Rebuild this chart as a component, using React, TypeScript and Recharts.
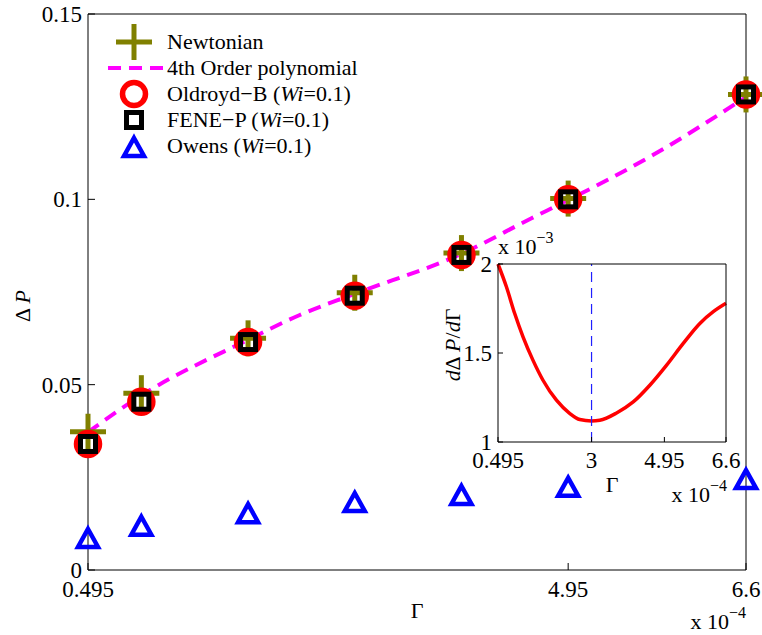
import React from "react";
import {
  CartesianGrid,
  ComposedChart,
  Line,
  ReferenceLine,
  Scatter,
  XAxis,
  YAxis,
} from "recharts";

const FONT = "'Liberation Serif', 'Times New Roman', serif";

// main plot, Gamma in units of 1e-4
const gammaX = [0.495, 0.99, 1.98, 2.97, 3.96, 4.95, 6.6];
const newtonian = [0.0373, 0.0477, 0.0625, 0.0748, 0.0855, 0.1002, 0.1283];
const oldroydB = [0.034, 0.0454, 0.0615, 0.074, 0.085, 0.1, 0.1283];
const feneP = [0.034, 0.0454, 0.0615, 0.074, 0.085, 0.1, 0.1283];
const owens = [0.0081, 0.0114, 0.0148, 0.0178, 0.0197, 0.0219, 0.024];

// 4th order polynomial fit
const polyX = [0.495, 0.99, 1.98, 2.46, 2.97, 3.96, 4.61, 4.95, 5.74, 6.6];
const polyY = [0.0372, 0.0471, 0.0621, 0.0688, 0.0745, 0.0853, 0.0949, 0.0998, 0.112, 0.1276];

// inset: d(dP)/dGamma in units of 1e-3
const insetX = [0.495, 0.72, 0.94, 1.165, 1.43, 1.7, 2.06, 2.42, 2.685, 3.0, 3.22, 3.67, 4.115, 4.56, 5.01, 5.455, 5.9, 6.26, 6.6];
const insetY = [2.0, 1.872, 1.723, 1.591, 1.46, 1.347, 1.235, 1.16, 1.126, 1.118, 1.122, 1.163, 1.225, 1.319, 1.432, 1.554, 1.666, 1.732, 1.779];
const insetMinX = 3;

const xTicks = [0.495, 4.95, 6.6];
const yTicks = [0, 0.05, 0.1, 0.15];
const insetXTicks = [0.495, 3, 4.95, 6.6];
const insetYTicks = [1, 1.5, 2];

const zip = (xs: number[], ys: number[]) => xs.map((x, i) => ({ x, y: ys[i] }));

const OLIVE = "#808000";
const MAGENTA = "#ff00ff";
const FS = 22;
const TICK_FS = 23;
const serif = { fontFamily: FONT };

function Plus({ cx, cy }: { cx: number; cy: number }) {
  return (
    <g stroke={OLIVE} strokeWidth={5}>
      <line x1={cx - 18} y1={cy} x2={cx + 18} y2={cy} />
      <line x1={cx} y1={cy - 18} x2={cx} y2={cy + 18} />
    </g>
  );
}
function Ring({ cx, cy }: { cx: number; cy: number }) {
  return <circle cx={cx} cy={cy} r={11.5} fill="none" stroke="#ff0000" strokeWidth={5.5} />;
}
function Box({ cx, cy }: { cx: number; cy: number }) {
  return <rect x={cx - 7.5} y={cy - 7.5} width={15} height={15} fill="none" stroke="#000" strokeWidth={5} />;
}
function Tri({ cx, cy }: { cx: number; cy: number }) {
  return (
    <path
      d={`M${cx},${cy - 11}L${cx + 10},${cy + 7}L${cx - 10},${cy + 7}Z`}
      fill="none"
      stroke="#0000ff"
      strokeWidth={4.5}
      strokeLinejoin="miter"
    />
  );
}

// serif tick labels (bottom / left)
const BottomTick = (p: any) => (
  <text x={p.x} y={p.y} dy="0.71em" textAnchor="middle" style={serif} fontSize={TICK_FS} fill="#000">
    {p.payload.value}
  </text>
);
const LeftTick = (p: any) => (
  <text x={p.x} y={p.y} dy="0.355em" textAnchor="end" style={serif} fontSize={TICK_FS} fill="#000">
    {p.payload.value}
  </text>
);

function Sci({ x, y, exp, anchor }: { x: number; y: number; exp: string; anchor: "start" | "end" }) {
  return (
    <text x={x} y={y} textAnchor={anchor} style={serif} fontSize={FS} fill="#000">
      x 10
      <tspan dy={-11} fontSize={16}>
        {exp}
      </tspan>
    </text>
  );
}

function Legend() {
  const rows: Array<[React.ReactNode, React.ReactNode]> = [
    [<Plus cx={20} cy={13} />, "Newtonian"],
    [
      <line x1={-6} y1={13} x2={49} y2={13} stroke={MAGENTA} strokeWidth={4} strokeDasharray="13 8" />,
      "4th Order polynomial",
    ],
    [<Ring cx={20} cy={13} />, <>Oldroyd−B (<i>Wi</i>=0.1)</>],
    [<Box cx={20} cy={13} />, <>FENE−P (<i>Wi</i>=0.1)</>],
    [<Tri cx={20} cy={16} />, <>Owens (<i>Wi</i>=0.1)</>],
  ];
  return (
    <div style={{ position: "absolute", left: 114, top: 29, fontFamily: FONT, fontSize: FS, color: "#000" }}>
      {rows.map(([m, t], i) => (
        <div key={i} style={{ display: "flex", alignItems: "center", height: 26 }}>
          <svg width={40} height={26} style={{ overflow: "visible" }}>
            {m}
          </svg>
          <span style={{ marginLeft: 13, whiteSpace: "nowrap", lineHeight: "26px" }}>{t}</span>
        </div>
      ))}
    </div>
  );
}

export default function App() {
  return (
    <div
      style={{
        position: "absolute",
        left: 0,
        top: 0,
        width: 762,
        height: 635,
        background: "#fff",
        fontFamily: FONT,
      }}
    >
      <ComposedChart
        width={762}
        height={635}
        margin={{ top: 13, right: 15, bottom: 64, left: 87 }}
        style={serif}
      >
        <XAxis
          dataKey="x"
          type="number"
          domain={[0.495, 6.6]}
          ticks={xTicks}
          interval={0}
          height={1}
          tick={BottomTick}
          tickSize={-7}
          tickMargin={18}
          axisLine={{ stroke: "#000" }}
          tickLine={{ stroke: "#000" }}
          label={(p: any) => {
            const vb = p.viewBox;
            return (
              <g>
                <text x={vb.x + vb.width / 2} y={618} textAnchor="middle" style={serif} fontSize={FS} fill="#000">
                  Γ
                </text>
                <Sci x={vb.x + vb.width} y={629} exp="−4" anchor="end" />
              </g>
            );
          }}
        />
        <XAxis
          xAxisId="top"
          orientation="top"
          type="number"
          domain={[0.495, 6.6]}
          ticks={xTicks}
          interval={0}
          height={1}
          tickSize={-7}
          tickFormatter={() => ""}
          axisLine={{ stroke: "#000" }}
          tickLine={{ stroke: "#000" }}
        />
        <YAxis
          dataKey="y"
          type="number"
          domain={[0, 0.15]}
          ticks={yTicks}
          interval={0}
          width={1}
          tick={LeftTick}
          tickSize={-7}
          tickMargin={13}
          axisLine={{ stroke: "#000" }}
          tickLine={{ stroke: "#000" }}
          label={(p: any) => {
            const vb = p.viewBox;
            const cy = vb.y + vb.height / 2 + 14;
            return (
              <text
                x={22}
                y={cy}
                transform={`rotate(-90 22 ${cy})`}
                textAnchor="middle"
                dominantBaseline="central"
                style={serif}
                fontSize={FS}
                fill="#000"
              >
                Δ <tspan fontStyle="italic">P</tspan>
              </text>
            );
          }}
        />
        <YAxis
          yAxisId="right"
          orientation="right"
          type="number"
          domain={[0, 0.15]}
          ticks={yTicks}
          interval={0}
          width={1}
          tickSize={-7}
          tickFormatter={() => ""}
          axisLine={{ stroke: "#000" }}
          tickLine={{ stroke: "#000" }}
        />
        <Scatter
          name="Newtonian"
          data={zip(gammaX, newtonian)}
          shape={(p: any) => <Plus cx={p.cx} cy={p.cy} />}
          isAnimationActive={false}
        />
        <Line
          name="4th Order polynomial"
          data={zip(polyX, polyY)}
          dataKey="y"
          type="monotone"
          stroke={MAGENTA}
          strokeWidth={4}
          strokeDasharray="13 8"
          dot={false}
          activeDot={false}
          isAnimationActive={false}
        />
        <Scatter
          name="Oldroyd-B"
          data={zip(gammaX, oldroydB)}
          shape={(p: any) => <Ring cx={p.cx} cy={p.cy} />}
          isAnimationActive={false}
        />
        <Scatter
          name="FENE-P"
          data={zip(gammaX, feneP)}
          shape={(p: any) => <Box cx={p.cx} cy={p.cy} />}
          isAnimationActive={false}
        />
        <Scatter
          name="Owens"
          data={zip(gammaX, owens)}
          shape={(p: any) => <Tri cx={p.cx} cy={p.cy} />}
          isAnimationActive={false}
        />
      </ComposedChart>

      <Legend />

      <div style={{ position: "absolute", left: 420, top: 220, width: 342, height: 290 }}>
        <ComposedChart
          width={342}
          height={290}
          margin={{ top: 43, right: 35, bottom: 67, left: 77 }}
          style={serif}
        >
          <CartesianGrid horizontal={false} vertical={false} fill="#fff" fillOpacity={1} />
          <XAxis
            dataKey="x"
            type="number"
            domain={[0.495, 6.6]}
            ticks={insetXTicks}
            interval={0}
            height={1}
            tick={BottomTick}
            tickSize={-5}
            tickMargin={15}
            axisLine={{ stroke: "#000" }}
            tickLine={{ stroke: "#000" }}
            label={(p: any) => {
              const vb = p.viewBox;
              return (
                <g>
                  <text x={vb.x + vb.width / 2} y={272} textAnchor="middle" style={serif} fontSize={FS} fill="#000">
                    Γ
                  </text>
                  <Sci x={vb.x + vb.width + 1} y={282} exp="−4" anchor="end" />
                </g>
              );
            }}
          />
          <XAxis
            xAxisId="top"
            orientation="top"
            type="number"
            domain={[0.495, 6.6]}
            ticks={insetXTicks}
            interval={0}
            height={1}
            tickSize={-5}
            tickFormatter={() => ""}
            axisLine={{ stroke: "#000" }}
            tickLine={{ stroke: "#000" }}
          />
          <YAxis
            dataKey="y"
            type="number"
            domain={[1, 2]}
            ticks={insetYTicks}
            interval={0}
            width={1}
            tick={LeftTick}
            tickSize={-5}
            tickMargin={11}
            axisLine={{ stroke: "#000" }}
            tickLine={{ stroke: "#000" }}
            label={(p: any) => {
              const vb = p.viewBox;
              const cy = vb.y + 81;
              return (
                <g>
                  <text
                    x={32}
                    y={cy}
                    transform={`rotate(-90 32 ${cy})`}
                    textAnchor="middle"
                    dominantBaseline="central"
                    style={serif}
                    fontSize={FS}
                    fill="#000"
                  >
                    <tspan fontStyle="italic">d</tspan>Δ <tspan fontStyle="italic">P</tspan>/
                    <tspan fontStyle="italic">d</tspan>Γ
                  </text>
                  <Sci x={78} y={34} exp="−3" anchor="start" />
                </g>
              );
            }}
          />
          <YAxis
            yAxisId="right"
            orientation="right"
            type="number"
            domain={[1, 2]}
            ticks={insetYTicks}
            interval={0}
            width={1}
            tickSize={-5}
            tickFormatter={() => ""}
            axisLine={{ stroke: "#000" }}
            tickLine={{ stroke: "#000" }}
          />
          <Line
            data={zip(insetX, insetY)}
            dataKey="y"
            type="monotone"
            stroke="#ff0000"
            strokeWidth={3.5}
            dot={false}
            activeDot={false}
            isAnimationActive={false}
          />
          <ReferenceLine x={insetMinX} stroke="#2020ff" strokeWidth={1.2} strokeDasharray="10 6" />
        </ComposedChart>
      </div>
    </div>
  );
}
